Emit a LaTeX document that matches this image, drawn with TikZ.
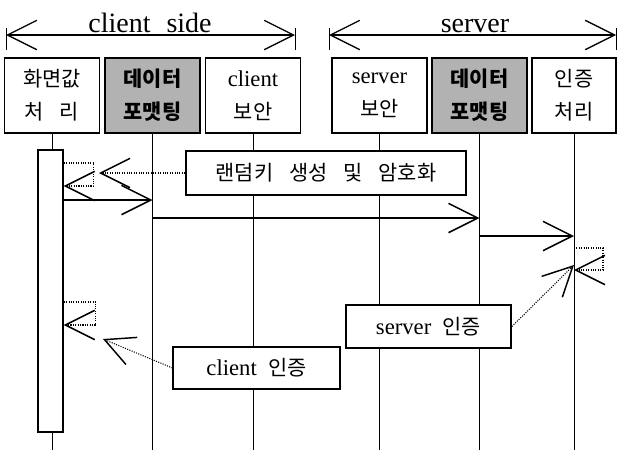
\documentclass[tikz,border=0pt]{standalone}
\usepackage{fontspec}
\setmainfont{Liberation Serif}
\newfontfamily\kr[Scale=0.92]{Noto Sans CJK KR}
\usetikzlibrary{arrows.meta}
\newcommand\kgap{\hspace{12pt}}

\begin{document}
\begin{tikzpicture}[x=0.75pt,y=-0.75pt,
    barb/.style={-{Straight Barb[length=22pt,width=22pt,line width=1.1pt]}},
    obj/.style={draw,line width=1.1pt,minimum width=#1,minimum height=56pt,inner sep=0pt,
      align=center,font=\fontsize{17}{25}\selectfont},
    fmt/.style={fill=black!30,font=\fontsize{17}{25}\selectfont\bfseries},
    note/.style={draw,fill=white,line width=1.1pt,inner sep=0pt,font=\fontsize{17}{20}\selectfont},
    call/.style={barb,line width=1.1pt},
    loopback/.style={barb,densely dotted,line width=0.8pt}]
    \useasboundingbox (0,0) rectangle (618,450);
    % headers
    \node[font=\fontsize{21}{24}\selectfont,inner sep=0pt,anchor=base] (client) at (150,32) {client\kgap side};
    \node[font=\fontsize{21}{24}\selectfont,inner sep=0pt,anchor=base] (server) at (475,32.5) {server};
    \foreach \xa/\xb in {6/295,329/616}
    {
      \draw[line width=1pt,{Straight Barb[length=22pt,width=22pt]}-{Straight Barb[length=22pt,width=22pt]}]
        (\xa,35) -- (\xb,35);
      \draw[line width=0.4pt] (\xa,28) -- (\xa,50);
      \draw[line width=0.4pt] (\xb,28) -- (\xb,50);
    }
    % objects
    \node[obj=71pt] (b1) at (52,95.5) {{\kr 화면값}\\{\kr 처\kgap 리}};
    \node[obj=71pt,fmt] (b2) at (152.5,95.5) {{\kr 데이터}\\{\kr 포맷팅}};
    \node[obj=71pt] (b3) at (253,95.5) {client\\{\kr 보안}};
    \node[obj=71pt] (b4) at (379.5,95.5) {server\\{\kr 보안}};
    \node[obj=71pt,fmt] (b5) at (479.5,95.5) {{\kr 데이터}\\{\kr 포맷팅}};
    \node[obj=63pt] (b6) at (574,95.5) {{\kr 인증}\\{\kr 처리}};
    \foreach \i in {1,...,6}
      \draw[line width=0.6pt] (b\i.south) -- (b\i.south |- 0,450);
    \node[draw,fill=white,line width=1.1pt,minimum width=18.75pt,minimum height=211.5pt,inner sep=0pt]
      (act) at (50.5,291) {};
    % messages
    \draw[loopback] (act.east |- 0,163) -- ++(30,0) -- ++(0,23) -- (act.east |- 0,186);
    \draw[call] (act.east |- 0,200) -- (b2 |- 0,200);
    \draw[call] (b2 |- 0,218) -- (b5 |- 0,218);
    \draw[call] (b5 |- 0,236) -- (b6 |- 0,236);
    \draw[loopback] (b6 |- 0,248) -- ++(29,0) -- ++(0,22) -- (b6 |- 0,270);
    \draw[loopback] (act.east |- 0,302) -- ++(32,0) -- ++(0,23) -- (act.east |- 0,325);
    % notes
    \node[note,minimum width=210pt,minimum height=33pt] (n1) at (326,173)
      {\kr 랜덤키\kgap 생성\kgap 및\kgap 암호화};
    \node[note,minimum width=124pt,minimum height=32pt] (n2) at (428.5,326.5) {server~~{\kr 인증}};
    \node[note,minimum width=125pt,minimum height=31.5pt] (n3) at (256.5,368) {client~~{\kr 인증}};
    \coordinate (t1) at (99,173);
    \coordinate (t3) at (103,339);
    \draw[loopback] (n1.west) -- (t1);
    \draw[loopback] (n2.east) -- (b6 |- 0,265);
    \draw[loopback] (n3.west) -- (t3);
  \end{tikzpicture}
\end{document}
